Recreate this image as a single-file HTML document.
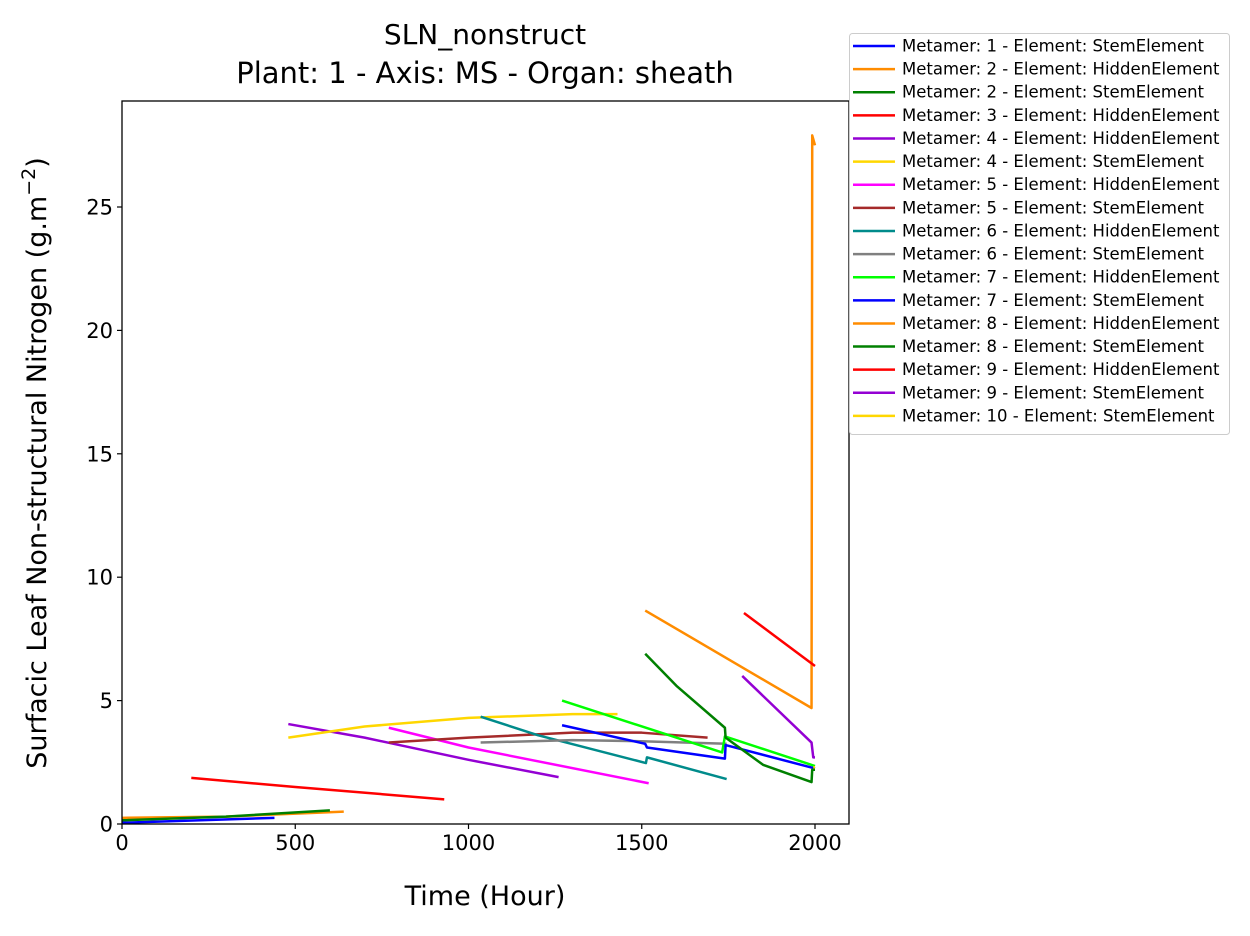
<!DOCTYPE html>
<html><head><meta charset="utf-8"><style>
body{margin:0;background:#fff;}
svg text{font-family:"DejaVu Sans","Liberation Sans",sans-serif;}
</style></head><body>
<svg id="chart" width="1250" height="931" xmlns="http://www.w3.org/2000/svg">
<text x="485" y="44" font-size="28" text-anchor="middle">SLN_nonstruct</text>
<text x="485" y="83" font-size="29" text-anchor="middle">Plant: 1 - Axis: MS - Organ: sheath</text>
<g id="plot"></g>
<text x="485" y="905" font-size="27" text-anchor="middle">Time (Hour)</text>
<text transform="translate(46,463) rotate(-90)" font-size="27" text-anchor="middle">Surfacic Leaf Non-structural Nitrogen (g.m<tspan baseline-shift="super" font-size="19">−2</tspan>)</text>
<g id="legend"></g>
</svg>
<script>
const xTicks=[0,500,1000,1500,2000];
const yTicks=[0,5,10,15,20,25];
const seriesNames=["Metamer: 1 - Element: StemElement","Metamer: 2 - Element: HiddenElement","Metamer: 2 - Element: StemElement","Metamer: 3 - Element: HiddenElement","Metamer: 4 - Element: HiddenElement","Metamer: 4 - Element: StemElement","Metamer: 5 - Element: HiddenElement","Metamer: 5 - Element: StemElement","Metamer: 6 - Element: HiddenElement","Metamer: 6 - Element: StemElement","Metamer: 7 - Element: HiddenElement","Metamer: 7 - Element: StemElement","Metamer: 8 - Element: HiddenElement","Metamer: 8 - Element: StemElement","Metamer: 9 - Element: HiddenElement","Metamer: 9 - Element: StemElement","Metamer: 10 - Element: StemElement"];
const seriesColors=["#0000ff","#ff8c00","#008000","#ff0000","#9400d3","#ffd700","#ff00ff","#a52a2a","#008b8b","#808080","#00ff00","#0000ff","#ff8c00","#008000","#ff0000","#9400d3","#ffd700"];
const s1=[[0,0.05],[440,0.25]];
const s2=[[0,0.25],[300,0.3],[640,0.5]];
const s3=[[0,0.15],[300,0.3],[600,0.55]];
const s4=[[200,1.87],[500,1.5],[930,1.0]];
const s5=[[480,4.05],[700,3.5],[1000,2.6],[1260,1.9]];
const s6=[[480,3.5],[700,3.95],[1000,4.3],[1300,4.45],[1430,4.45]];
const s7=[[770,3.9],[1000,3.1],[1520,1.65]];
const s8=[[770,3.3],[1000,3.5],[1300,3.7],[1500,3.7],[1690,3.5]];
const s9=[[1035,4.35],[1200,3.6],[1512,2.47],[1515,2.7],[1745,1.82]];
const s10=[[1035,3.3],[1300,3.4],[1510,3.35],[1745,3.25]];
const s11=[[1270,5.0],[1732,2.9],[1740,3.55],[2000,2.35]];
const s12=[[1270,4.0],[1510,3.25],[1515,3.1],[1740,2.65],[1742,3.2],[2000,2.25]];
const s13=[[1510,8.65],[1990,4.7],[1992,27.9],[2000,27.5]];
const s14=[[1510,6.9],[1600,5.6],[1740,3.9],[1742,3.5],[1850,2.4],[1990,1.7],[1992,2.2],[2000,2.2]];
const s15=[[1795,8.55],[2000,6.4]];
const s16=[[1790,6.0],[1990,3.3],[1995,2.7],[2000,2.7]];
const s17=[[1995,2.3],[2000,2.3]];
const seriesData=[s1,s2,s3,s4,s5,s6,s7,s8,s9,s10,s11,s12,s13,s14,s15,s16,s17];
const NS="http://www.w3.org/2000/svg";
const L=122,R=849,T=101,B=824;
const X=t=>L+t*0.3465;
const Y=v=>B-v*24.68;
const plot=document.getElementById('plot');
function mk(tag,attrs,parent){const e=document.createElementNS(NS,tag);for(const k in attrs)e.setAttribute(k,attrs[k]);parent.appendChild(e);return e;}
seriesData.forEach((d,i)=>{
 const p=mk('polyline',{points:d.map(q=>X(q[0])+','+Y(q[1])).join(' '),fill:'none',stroke:seriesColors[i],'stroke-width':2.5,'stroke-linejoin':'round'},plot);
 
 
});
const frame=mk('rect',{x:L,y:T,width:R-L,height:B-T,fill:'none',stroke:'#000','stroke-width':1.3},plot);


xTicks.forEach(t=>{
 mk('line',{x1:X(t),x2:X(t),y1:B,y2:B+5,stroke:'#000','stroke-width':1.2},plot);
 const tx=mk('text',{x:X(t),y:B+26,'font-size':21,'text-anchor':'middle'},plot);tx.textContent=t;
 
 
});
yTicks.forEach(v=>{
 mk('line',{x1:L-5,x2:L,y1:Y(v),y2:Y(v),stroke:'#000','stroke-width':1.2},plot);
 const tx=mk('text',{x:L-9,y:Y(v)+7.5,'font-size':21,'text-anchor':'end'},plot);tx.textContent=v;
 
 
});
const lg=document.getElementById('legend');
mk('rect',{x:849.5,y:33.5,width:380,height:401,rx:3,fill:'#fff',stroke:'#ccc'},lg);
seriesNames.forEach((n,i)=>{
 const y=46+i*23.12;
 const g=mk('g',{},lg);
 
 
 mk('line',{x1:853,x2:895,y1:y,y2:y,stroke:seriesColors[i],'stroke-width':2.5},g);
 const t=mk('text',{x:902,y:y+5.5,'font-size':16.5},g);t.textContent=n;
});
</script>
</body></html>
